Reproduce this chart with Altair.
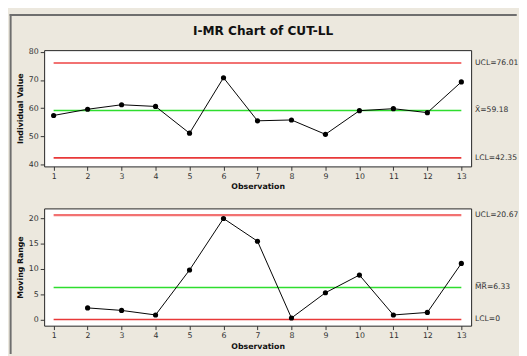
import altair as alt
import pandas as pd

# ---- data ----
observations = list(range(1, 14))
individual = [57.4, 59.6, 61.2, 60.6, 51.1, 70.8, 55.5, 55.8, 50.7, 59.1, 59.8, 58.4, 69.3]
mr_observations = list(range(2, 14))
moving_range = [2.3, 1.8, 0.9, 9.8, 20.0, 15.5, 0.3, 5.3, 8.8, 0.9, 1.4, 11.1]

i_limit_values = [76.01, 59.18, 42.35]
i_limit_labels = ["UCL=76.01", "X\u0304=59.18", "LCL=42.35"]
mr_limit_values = [20.67, 6.33, 0.0]
mr_limit_labels = ["UCL=20.67", "M\u0305R\u0305=6.33", "LCL=0"]
x_ticks = list(range(1, 14))
i_ticks = [40, 50, 60, 70, 80]
mr_ticks = [0, 5, 10, 15, 20]
chart_title = "I-MR Chart of CUT-LL"

W = 437
H1 = 119
H2 = 120
FONT = "DejaVu Sans"
UCL_COLOR = "#F27272"
LCL_COLOR = "#E83838"
CL_COLOR = "#2EDD2E"
FRAME = "#6E6E6E"

xscale = alt.Scale(domain=[0.721, 13.288], nice=False, zero=False)


def xaxis():
    return alt.Axis(values=x_ticks, format="d", title="Observation", tickSize=4,
                    labelPadding=2, titlePadding=3)


def panel(obs, vals, lim_vals, lim_labels, ydomain, yticks, ytitle, height):
    yscale = alt.Scale(domain=ydomain, nice=False, zero=False)
    ya = alt.Axis(values=yticks, title=ytitle, tickSize=4, labelPadding=2, titlePadding=4)
    df = pd.DataFrame({"obs": obs, "val": vals})
    lim = pd.DataFrame({"y": lim_vals, "label": lim_labels,
                        "x1": [x_ticks[0]] * 3, "x2": [x_ticks[-1]] * 3})
    layers = []
    styles = [(UCL_COLOR, 2.2), (CL_COLOR, 1.6), (LCL_COLOR, 1.6)]
    for i, (c, w) in enumerate(styles):
        layers.append(
            alt.Chart(lim.iloc[[i]]).mark_rule(color=c, strokeWidth=w).encode(
                x=alt.X("x1:Q", scale=xscale, axis=xaxis()), x2="x2:Q",
                y=alt.Y("y:Q", scale=yscale, axis=ya))
        )
    layers.append(
        alt.Chart(df).mark_line(color="black", strokeWidth=1).encode(
            x=alt.X("obs:Q", scale=xscale, axis=xaxis()),
            y=alt.Y("val:Q", scale=yscale, axis=ya))
    )
    layers.append(
        alt.Chart(df).mark_point(filled=True, color="black", size=28, opacity=1).encode(
            x=alt.X("obs:Q", scale=xscale, axis=xaxis()),
            y=alt.Y("val:Q", scale=yscale, axis=ya))
    )
    layers.append(
        alt.Chart(lim).mark_text(align="left", baseline="middle", font=FONT,
                                 fontSize=7.8, color="#333333").encode(
            x=alt.value(W + 4), y=alt.Y("y:Q", scale=yscale, axis=ya), text="label:N")
    )
    return layers


upper_layers = panel(observations, individual, i_limit_values, i_limit_labels,
                     [39.31, 80.59], i_ticks, "Individual Value", H1)
lower_layers = panel(mr_observations, moving_range, mr_limit_values, mr_limit_labels,
                     [-1.22, 21.99], mr_ticks, "Moving Range", H2)

one = pd.DataFrame({"t": [chart_title]})
title_mark = alt.Chart(one).mark_text(font=FONT, fontSize=12.4, fontWeight="bold",
                                      color="#111111", baseline="middle", align="center").encode(
    x=alt.value(224), y=alt.value(-20), text="t:N")
left_border = alt.Chart(one).mark_rule(color=FRAME, strokeWidth=2).encode(
    x=alt.value(-34.3), y=alt.value(-37), y2=alt.value(311))
top_border = alt.Chart(one).mark_rule(color=FRAME, strokeWidth=2).encode(
    x=alt.value(-35.3), x2=alt.value(483.7), y=alt.value(-36))

upper = alt.layer(*upper_layers, title_mark, left_border, top_border).properties(width=W, height=H1)
lower = alt.layer(*lower_layers).properties(width=W, height=H2)

chart = alt.vconcat(upper, lower, spacing=43, bounds="flush").properties(
    padding=0, background="#ECE8DE"
).configure_view(
    stroke="#222222", strokeWidth=1, fill="white"
).configure_axis(
    labelFont=FONT, labelFontSize=8, labelColor="#333333",
    tickColor="#333333", domain=False, grid=False,
    titleFont=FONT, titleFontSize=8, titleFontWeight="bold", titleColor="#111111"
)

chart.save("out.html", embed_options={"renderer": "svg", "actions": False})
